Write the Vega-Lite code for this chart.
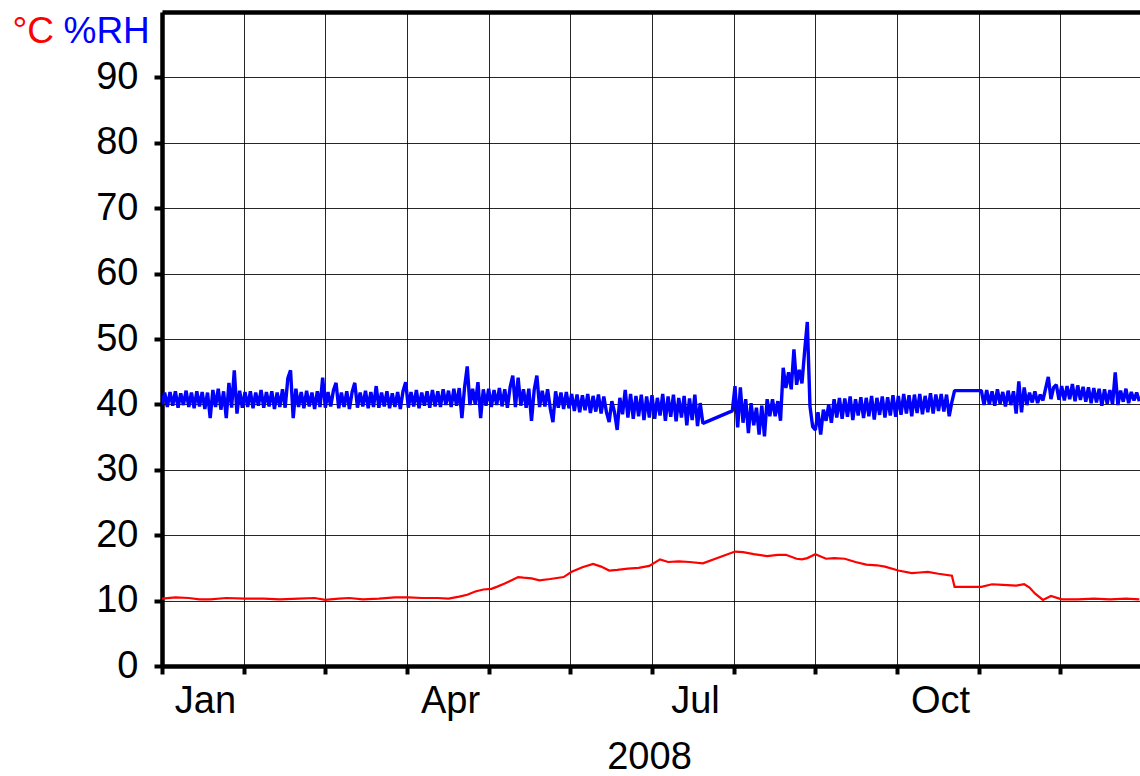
{
  "$schema": "https://vega.github.io/schema/vega-lite/v6.json",
  "width": 978,
  "height": 654,
  "autosize": {"type": "none"},
  "padding": {"left": 162, "top": 12, "right": 0, "bottom": 110},
  "background": "white",
  "config": {
    "font": "Liberation Sans",
    "view": {"stroke": null},
    "axis": {
      "labelFont": "Liberation Sans",
      "titleFont": "Liberation Sans",
      "labelFontSize": 38,
      "titleFontSize": 38,
      "labelColor": "#000",
      "titleColor": "#000",
      "titleFontWeight": "normal",
      "domainColor": "#000",
      "tickColor": "#000",
      "gridColor": "#000",
      "labelFlush": false,
      "labelOverlap": false,
      "labelBound": false
    }
  },
  "datasets": {
    "rh": [
      {"t":"2008/01/01","v":40.0},{"t":"2008/01/02","v":41.8},{"t":"2008/01/03","v":39.6},{"t":"2008/01/04","v":41.9},{"t":"2008/01/05","v":39.8},{"t":"2008/01/06","v":42.0},{"t":"2008/01/07","v":39.5},{"t":"2008/01/08","v":41.7},{"t":"2008/01/09","v":39.9},{"t":"2008/01/10","v":42.1},{"t":"2008/01/11","v":39.6},{"t":"2008/01/12","v":41.8},{"t":"2008/01/13","v":39.4},{"t":"2008/01/14","v":42.0},{"t":"2008/01/15","v":39.7},{"t":"2008/01/16","v":41.9},{"t":"2008/01/17","v":39.3},{"t":"2008/01/18","v":41.8},{"t":"2008/01/19","v":37.9},{"t":"2008/01/20","v":42.2},{"t":"2008/01/21","v":39.6},{"t":"2008/01/22","v":42.4},{"t":"2008/01/23","v":39.2},{"t":"2008/01/24","v":42.0},{"t":"2008/01/25","v":37.9},{"t":"2008/01/26","v":43.3},{"t":"2008/01/27","v":39.5},{"t":"2008/01/28","v":45.2},{"t":"2008/01/29","v":38.6},{"t":"2008/01/30","v":42.1},{"t":"2008/01/31","v":39.5},
      {"t":"2008/02/01","v":41.9},{"t":"2008/02/02","v":39.6},{"t":"2008/02/03","v":42.0},{"t":"2008/02/04","v":39.4},{"t":"2008/02/05","v":41.8},{"t":"2008/02/06","v":39.8},{"t":"2008/02/07","v":42.2},{"t":"2008/02/08","v":39.5},{"t":"2008/02/09","v":41.9},{"t":"2008/02/10","v":39.7},{"t":"2008/02/11","v":42.0},{"t":"2008/02/12","v":39.3},{"t":"2008/02/13","v":41.8},{"t":"2008/02/14","v":39.6},{"t":"2008/02/15","v":42.3},{"t":"2008/02/16","v":39.5},{"t":"2008/02/17","v":44.0},{"t":"2008/02/18","v":45.2},{"t":"2008/02/19","v":37.9},{"t":"2008/02/20","v":42.4},{"t":"2008/02/21","v":39.6},{"t":"2008/02/22","v":41.9},{"t":"2008/02/23","v":39.4},{"t":"2008/02/24","v":42.1},{"t":"2008/02/25","v":39.7},{"t":"2008/02/26","v":41.8},{"t":"2008/02/27","v":39.3},{"t":"2008/02/28","v":42.0},{"t":"2008/02/29","v":39.6},
      {"t":"2008/03/01","v":44.1},{"t":"2008/03/02","v":39.5},{"t":"2008/03/03","v":41.9},{"t":"2008/03/04","v":39.7},{"t":"2008/03/05","v":42.1},{"t":"2008/03/06","v":43.3},{"t":"2008/03/07","v":39.4},{"t":"2008/03/08","v":41.8},{"t":"2008/03/09","v":39.6},{"t":"2008/03/10","v":42.0},{"t":"2008/03/11","v":39.3},{"t":"2008/03/12","v":41.9},{"t":"2008/03/13","v":43.3},{"t":"2008/03/14","v":39.5},{"t":"2008/03/15","v":41.8},{"t":"2008/03/16","v":39.7},{"t":"2008/03/17","v":42.1},{"t":"2008/03/18","v":39.4},{"t":"2008/03/19","v":41.9},{"t":"2008/03/20","v":39.6},{"t":"2008/03/21","v":42.8},{"t":"2008/03/22","v":39.5},{"t":"2008/03/23","v":41.8},{"t":"2008/03/24","v":39.7},{"t":"2008/03/25","v":42.0},{"t":"2008/03/26","v":39.4},{"t":"2008/03/27","v":41.7},{"t":"2008/03/28","v":39.6},{"t":"2008/03/29","v":41.9},{"t":"2008/03/30","v":39.3},{"t":"2008/03/31","v":42.0},
      {"t":"2008/04/01","v":43.4},{"t":"2008/04/02","v":39.5},{"t":"2008/04/03","v":41.9},{"t":"2008/04/04","v":39.7},{"t":"2008/04/05","v":42.2},{"t":"2008/04/06","v":39.4},{"t":"2008/04/07","v":41.8},{"t":"2008/04/08","v":39.8},{"t":"2008/04/09","v":42.0},{"t":"2008/04/10","v":39.5},{"t":"2008/04/11","v":42.2},{"t":"2008/04/12","v":39.7},{"t":"2008/04/13","v":42.0},{"t":"2008/04/14","v":39.6},{"t":"2008/04/15","v":42.3},{"t":"2008/04/16","v":39.9},{"t":"2008/04/17","v":42.1},{"t":"2008/04/18","v":39.6},{"t":"2008/04/19","v":42.4},{"t":"2008/04/20","v":39.8},{"t":"2008/04/21","v":42.5},{"t":"2008/04/22","v":37.9},{"t":"2008/04/23","v":42.6},{"t":"2008/04/24","v":45.8},{"t":"2008/04/25","v":39.9},{"t":"2008/04/26","v":42.4},{"t":"2008/04/27","v":40.0},{"t":"2008/04/28","v":43.4},{"t":"2008/04/29","v":37.9},{"t":"2008/04/30","v":42.3},
      {"t":"2008/05/01","v":39.8},{"t":"2008/05/02","v":42.4},{"t":"2008/05/03","v":39.6},{"t":"2008/05/04","v":42.2},{"t":"2008/05/05","v":39.9},{"t":"2008/05/06","v":42.5},{"t":"2008/05/07","v":39.7},{"t":"2008/05/08","v":42.3},{"t":"2008/05/09","v":39.5},{"t":"2008/05/10","v":42.6},{"t":"2008/05/11","v":44.4},{"t":"2008/05/12","v":39.6},{"t":"2008/05/13","v":44.1},{"t":"2008/05/14","v":39.8},{"t":"2008/05/15","v":42.3},{"t":"2008/05/16","v":39.5},{"t":"2008/05/17","v":42.4},{"t":"2008/05/18","v":37.5},{"t":"2008/05/19","v":42.2},{"t":"2008/05/20","v":44.4},{"t":"2008/05/21","v":39.6},{"t":"2008/05/22","v":42.1},{"t":"2008/05/23","v":39.7},{"t":"2008/05/24","v":42.3},{"t":"2008/05/25","v":39.4},{"t":"2008/05/26","v":37.3},{"t":"2008/05/27","v":42.0},{"t":"2008/05/28","v":39.5},{"t":"2008/05/29","v":41.8},{"t":"2008/05/30","v":39.3},{"t":"2008/05/31","v":41.9},
      {"t":"2008/06/01","v":39.4},{"t":"2008/06/02","v":41.6},{"t":"2008/06/03","v":39.0},{"t":"2008/06/04","v":41.5},{"t":"2008/06/05","v":38.8},{"t":"2008/06/06","v":41.4},{"t":"2008/06/07","v":39.1},{"t":"2008/06/08","v":41.6},{"t":"2008/06/09","v":38.7},{"t":"2008/06/10","v":41.3},{"t":"2008/06/11","v":38.9},{"t":"2008/06/12","v":41.5},{"t":"2008/06/13","v":38.6},{"t":"2008/06/14","v":41.2},{"t":"2008/06/15","v":38.8},{"t":"2008/06/16","v":37.3},{"t":"2008/06/17","v":40.5},{"t":"2008/06/18","v":38.8},{"t":"2008/06/19","v":36.1},{"t":"2008/06/20","v":41.0},{"t":"2008/06/21","v":38.5},{"t":"2008/06/22","v":42.2},{"t":"2008/06/23","v":38.0},{"t":"2008/06/24","v":41.6},{"t":"2008/06/25","v":37.8},{"t":"2008/06/26","v":41.3},{"t":"2008/06/27","v":38.2},{"t":"2008/06/28","v":41.5},{"t":"2008/06/29","v":37.6},{"t":"2008/06/30","v":41.2},
      {"t":"2008/07/01","v":38.0},{"t":"2008/07/02","v":41.4},{"t":"2008/07/03","v":37.8},{"t":"2008/07/04","v":41.0},{"t":"2008/07/05","v":38.3},{"t":"2008/07/06","v":41.6},{"t":"2008/07/07","v":37.5},{"t":"2008/07/08","v":41.2},{"t":"2008/07/09","v":38.1},{"t":"2008/07/10","v":41.5},{"t":"2008/07/11","v":37.4},{"t":"2008/07/12","v":41.0},{"t":"2008/07/13","v":38.0},{"t":"2008/07/14","v":41.3},{"t":"2008/07/15","v":36.8},{"t":"2008/07/16","v":40.9},{"t":"2008/07/17","v":37.6},{"t":"2008/07/18","v":41.5},{"t":"2008/07/19","v":36.7},{"t":"2008/07/20","v":40.2},{"t":"2008/07/21","v":37.1},
      {"t":"2008/08/01","v":39.0},{"t":"2008/08/02","v":42.8},{"t":"2008/08/03","v":36.5},{"t":"2008/08/04","v":42.6},{"t":"2008/08/05","v":37.2},{"t":"2008/08/06","v":40.8},{"t":"2008/08/07","v":35.6},{"t":"2008/08/08","v":40.2},{"t":"2008/08/09","v":36.8},{"t":"2008/08/10","v":39.5},{"t":"2008/08/11","v":35.4},{"t":"2008/08/12","v":39.8},{"t":"2008/08/13","v":35.1},{"t":"2008/08/14","v":40.8},{"t":"2008/08/15","v":38.2},{"t":"2008/08/16","v":40.8},{"t":"2008/08/17","v":38.2},{"t":"2008/08/18","v":40.5},{"t":"2008/08/19","v":37.5},{"t":"2008/08/20","v":45.6},{"t":"2008/08/21","v":42.5},{"t":"2008/08/22","v":44.9},{"t":"2008/08/23","v":42.3},{"t":"2008/08/24","v":48.4},{"t":"2008/08/25","v":43.0},{"t":"2008/08/26","v":45.3},{"t":"2008/08/27","v":43.2},{"t":"2008/08/28","v":48.1},{"t":"2008/08/29","v":52.6},{"t":"2008/08/30","v":39.7},{"t":"2008/08/31","v":36.6},
      {"t":"2008/09/01","v":36.1},{"t":"2008/09/02","v":38.8},{"t":"2008/09/03","v":35.4},{"t":"2008/09/04","v":39.2},{"t":"2008/09/05","v":37.5},{"t":"2008/09/06","v":40.0},{"t":"2008/09/07","v":37.2},{"t":"2008/09/08","v":40.8},{"t":"2008/09/09","v":38.0},{"t":"2008/09/10","v":41.0},{"t":"2008/09/11","v":37.8},{"t":"2008/09/12","v":40.9},{"t":"2008/09/13","v":38.1},{"t":"2008/09/14","v":41.2},{"t":"2008/09/15","v":37.6},{"t":"2008/09/16","v":40.8},{"t":"2008/09/17","v":38.3},{"t":"2008/09/18","v":41.1},{"t":"2008/09/19","v":37.9},{"t":"2008/09/20","v":41.0},{"t":"2008/09/21","v":38.2},{"t":"2008/09/22","v":41.3},{"t":"2008/09/23","v":37.7},{"t":"2008/09/24","v":41.0},{"t":"2008/09/25","v":38.4},{"t":"2008/09/26","v":41.2},{"t":"2008/09/27","v":38.0},{"t":"2008/09/28","v":41.1},{"t":"2008/09/29","v":38.3},{"t":"2008/09/30","v":41.4},
      {"t":"2008/10/01","v":38.1},{"t":"2008/10/02","v":41.3},{"t":"2008/10/03","v":38.4},{"t":"2008/10/04","v":41.6},{"t":"2008/10/05","v":38.6},{"t":"2008/10/06","v":41.4},{"t":"2008/10/07","v":38.2},{"t":"2008/10/08","v":41.5},{"t":"2008/10/09","v":38.7},{"t":"2008/10/10","v":41.6},{"t":"2008/10/11","v":38.5},{"t":"2008/10/12","v":41.3},{"t":"2008/10/13","v":38.8},{"t":"2008/10/14","v":41.7},{"t":"2008/10/15","v":38.6},{"t":"2008/10/16","v":41.5},{"t":"2008/10/17","v":39.0},{"t":"2008/10/18","v":41.6},{"t":"2008/10/19","v":38.9},{"t":"2008/10/20","v":41.5},{"t":"2008/10/21","v":38.2},{"t":"2008/10/22","v":40.4},{"t":"2008/10/23","v":42.1},
      {"t":"2008/11/02","v":42.1},{"t":"2008/11/03","v":39.9},{"t":"2008/11/04","v":42.2},{"t":"2008/11/05","v":40.0},{"t":"2008/11/06","v":42.0},{"t":"2008/11/07","v":39.8},{"t":"2008/11/08","v":42.3},{"t":"2008/11/09","v":40.1},{"t":"2008/11/10","v":41.9},{"t":"2008/11/11","v":39.7},{"t":"2008/11/12","v":42.1},{"t":"2008/11/13","v":39.9},{"t":"2008/11/14","v":42.0},{"t":"2008/11/15","v":38.6},{"t":"2008/11/16","v":43.5},{"t":"2008/11/17","v":38.8},{"t":"2008/11/18","v":42.6},{"t":"2008/11/19","v":39.9},{"t":"2008/11/20","v":41.8},{"t":"2008/11/21","v":40.3},{"t":"2008/11/22","v":42.0},{"t":"2008/11/23","v":40.2},{"t":"2008/11/24","v":41.5},{"t":"2008/11/25","v":40.6},{"t":"2008/11/26","v":42.4},{"t":"2008/11/27","v":44.2},{"t":"2008/11/28","v":40.8},{"t":"2008/11/29","v":42.6},{"t":"2008/11/30","v":43.0},
      {"t":"2008/12/01","v":40.7},{"t":"2008/12/02","v":42.8},{"t":"2008/12/03","v":40.6},{"t":"2008/12/04","v":42.8},{"t":"2008/12/05","v":40.8},{"t":"2008/12/06","v":43.1},{"t":"2008/12/07","v":40.5},{"t":"2008/12/08","v":42.9},{"t":"2008/12/09","v":40.7},{"t":"2008/12/10","v":42.7},{"t":"2008/12/11","v":40.4},{"t":"2008/12/12","v":42.6},{"t":"2008/12/13","v":40.2},{"t":"2008/12/14","v":42.5},{"t":"2008/12/15","v":40.3},{"t":"2008/12/16","v":42.4},{"t":"2008/12/17","v":39.8},{"t":"2008/12/18","v":42.3},{"t":"2008/12/19","v":40.1},{"t":"2008/12/20","v":42.2},{"t":"2008/12/21","v":40.0},{"t":"2008/12/22","v":44.9},{"t":"2008/12/23","v":39.9},{"t":"2008/12/24","v":42.1},{"t":"2008/12/25","v":40.4},{"t":"2008/12/26","v":42.4},{"t":"2008/12/27","v":40.2},{"t":"2008/12/28","v":41.9},{"t":"2008/12/29","v":40.6},{"t":"2008/12/30","v":41.8},{"t":"2008/12/31","v":40.5}
    ],
    "temp": [
      {"t":"2008/01/01","v":10.3},{"t":"2008/01/06","v":10.5},{"t":"2008/01/11","v":10.4},{"t":"2008/01/15","v":10.2},{"t":"2008/01/19","v":10.2},{"t":"2008/01/25","v":10.4},{"t":"2008/02/01","v":10.3},{"t":"2008/02/08","v":10.3},{"t":"2008/02/14","v":10.2},{"t":"2008/02/21","v":10.3},{"t":"2008/02/27","v":10.4},{"t":"2008/03/02","v":10.1},{"t":"2008/03/07","v":10.3},{"t":"2008/03/11","v":10.4},{"t":"2008/03/16","v":10.2},{"t":"2008/03/22","v":10.3},{"t":"2008/03/28","v":10.5},{"t":"2008/04/02","v":10.5},{"t":"2008/04/07","v":10.4},{"t":"2008/04/13","v":10.4},{"t":"2008/04/17","v":10.3},{"t":"2008/04/21","v":10.6},{"t":"2008/04/24","v":10.9},{"t":"2008/04/27","v":11.4},{"t":"2008/04/30","v":11.7},{"t":"2008/05/03","v":11.8},{"t":"2008/05/05","v":12.1},{"t":"2008/05/08","v":12.6},{"t":"2008/05/10","v":13.0},{"t":"2008/05/13","v":13.6},{"t":"2008/05/15","v":13.5},{"t":"2008/05/18","v":13.4},{"t":"2008/05/21","v":13.1},{"t":"2008/05/25","v":13.3},{"t":"2008/05/30","v":13.6},{"t":"2008/06/02","v":14.4},{"t":"2008/06/06","v":15.1},{"t":"2008/06/10","v":15.6},{"t":"2008/06/13","v":15.2},{"t":"2008/06/16","v":14.6},{"t":"2008/06/19","v":14.7},{"t":"2008/06/23","v":14.9},{"t":"2008/06/27","v":15.0},{"t":"2008/07/01","v":15.3},{"t":"2008/07/05","v":16.3},{"t":"2008/07/08","v":15.9},{"t":"2008/07/12","v":16.0},{"t":"2008/07/16","v":15.9},{"t":"2008/07/21","v":15.7},{"t":"2008/08/02","v":17.5},{"t":"2008/08/05","v":17.4},{"t":"2008/08/09","v":17.1},{"t":"2008/08/14","v":16.8},{"t":"2008/08/18","v":17.0},{"t":"2008/08/21","v":17.0},{"t":"2008/08/25","v":16.4},{"t":"2008/08/27","v":16.3},{"t":"2008/08/29","v":16.5},{"t":"2008/09/01","v":17.1},{"t":"2008/09/05","v":16.4},{"t":"2008/09/08","v":16.5},{"t":"2008/09/12","v":16.4},{"t":"2008/09/16","v":15.9},{"t":"2008/09/20","v":15.5},{"t":"2008/09/24","v":15.4},{"t":"2008/09/27","v":15.2},{"t":"2008/10/02","v":14.6},{"t":"2008/10/07","v":14.2},{"t":"2008/10/10","v":14.3},{"t":"2008/10/13","v":14.4},{"t":"2008/10/17","v":14.1},{"t":"2008/10/22","v":13.8},{"t":"2008/10/23","v":12.1},{"t":"2008/11/02","v":12.1},{"t":"2008/11/06","v":12.5},{"t":"2008/11/10","v":12.4},{"t":"2008/11/15","v":12.3},{"t":"2008/11/18","v":12.5},{"t":"2008/11/20","v":12.0},{"t":"2008/11/22","v":11.1},{"t":"2008/11/25","v":10.1},{"t":"2008/11/28","v":10.7},{"t":"2008/12/02","v":10.2},{"t":"2008/12/08","v":10.2},{"t":"2008/12/14","v":10.3},{"t":"2008/12/20","v":10.2},{"t":"2008/12/26","v":10.3},{"t":"2008/12/31","v":10.2}
    ]
  },
  "layer": [
    {
      "data": {"name": "rh"},
      "mark": {"type": "line", "color": "#0000ff", "strokeWidth": 3.4, "strokeJoin": "bevel", "clip": true},
      "encoding": {
        "x": {
          "field": "t", "type": "temporal",
          "scale": {"domain": [{"year": 2008, "month": 1, "date": 1}, {"year": 2008, "month": 12, "date": 31, "hours": 6}]},
          "axis": {
            "orient": "bottom",
            "values": [
              {"year": 2008, "month": 1, "date": 1},
              {"year": 2008, "month": 1, "date": 31, "hours": 12},
              {"year": 2008, "month": 3, "date": 2},
              {"year": 2008, "month": 4, "date": 1, "hours": 12},
              {"year": 2008, "month": 5, "date": 2},
              {"year": 2008, "month": 6, "date": 1, "hours": 12},
              {"year": 2008, "month": 7, "date": 2},
              {"year": 2008, "month": 8, "date": 1, "hours": 12},
              {"year": 2008, "month": 9, "date": 1},
              {"year": 2008, "month": 10, "date": 1, "hours": 12},
              {"year": 2008, "month": 11, "date": 1},
              {"year": 2008, "month": 12, "date": 1, "hours": 12}
            ],
            "labelExpr": "(month(datum.value) % 3 == 0 && date(datum.value) <= 2) ? timeFormat(datum.value, '%b') : ''",
            "labelAlign": "center",
            "labelBaseline": "top",
            "labelOffset": 43,
            "labelPadding": 8,
            "domain": true, "domainWidth": 4.5,
            "ticks": true, "tickSize": 8, "tickWidth": 4,
            "grid": true, "gridWidth": 1, "gridOpacity": 0.85,
            "title": "2008",
            "titleBaseline": "alphabetic",
            "titleY": 102,
            "titleX": 487,
            "titleAlign": "center"
          }
        },
        "y": {
          "field": "v", "type": "quantitative",
          "scale": {"domain": [0, 100], "nice": false, "zero": true},
          "axis": {
            "orient": "left",
            "values": [0, 10, 20, 30, 40, 50, 60, 70, 80, 90],
            "domain": true, "domainWidth": 4.5,
            "ticks": true, "tickSize": 8, "tickWidth": 4,
            "labelPadding": 16,
            "labelBaseline": "middle",
            "grid": true, "gridWidth": 1, "gridOpacity": 0.85,
            "title": "°C",
            "titleColor": "#ff0000",
            "titleAngle": 0,
            "titleAlign": "left",
            "titleBaseline": "alphabetic",
            "titleFontSize": 37,
            "titleX": -150,
            "titleY": 30
          }
        }
      }
    },
    {
      "data": {"name": "temp"},
      "mark": {"type": "line", "color": "#ff0000", "strokeWidth": 2.2, "clip": true},
      "encoding": {
        "x": {
          "field": "t", "type": "temporal",
          "axis": {"orient": "top", "domain": true, "domainWidth": 4.5, "ticks": false, "labels": false, "grid": false, "title": null}
        },
        "y": {
          "field": "v", "type": "quantitative",
          "axis": {
            "orient": "left", "domain": false, "ticks": false, "labels": false, "grid": false,
            "title": "%RH",
            "titleColor": "#0000ff",
            "titleAngle": 0,
            "titleAlign": "left",
            "titleBaseline": "alphabetic",
            "titleFontSize": 37,
            "titleX": -99,
            "titleY": 30
          }
        }
      }
    }
  ],
  "resolve": {"axis": {"x": "independent", "y": "independent"}}
}
